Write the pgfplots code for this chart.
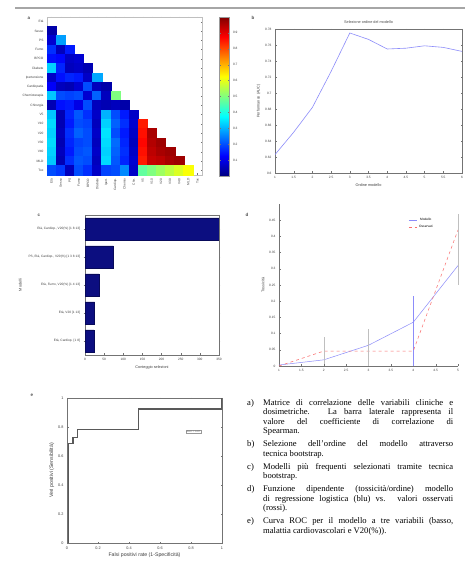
\documentclass[border=0pt]{standalone}
\usepackage{pgfplots}
\pgfplotsset{compat=1.18}
\usepackage{fontspec}
\setmainfont{Liberation Serif}
\newfontfamily\axfont{Liberation Sans}
\newcommand{\tk}{\axfont\fontsize{3.2}{3.6}\selectfont}
\newcommand{\lb}{\axfont\fontsize{3.8}{4.2}\selectfont}
\newcommand{\jl}[2]{\makebox[16pt][l]{#1}\makebox[190pt][s]{#2}}
\newcommand{\lastl}[1]{\makebox[16pt][l]{}#1}
\definecolor{navy}{RGB}{12,14,128}
\definecolor{lblue}{RGB}{140,140,250}
\definecolor{lred}{RGB}{250,110,110}
\pgfplotsset{
  every axis/.append style={
    scale only axis,
    axis line style={draw=black!55, line width=0.3pt},
    tick style={draw=black!55, line width=0.25pt},
    major tick length=1.5pt,
    tick align=inside,
    tick label style={font=\tk, text=black!75},
    label style={font=\lb, text=black!75},
    /pgf/number format/assume math mode=true,
  }
}
\begin{document}
\begin{tikzpicture}
\path[use as bounding box, fill=white] (0,0) rectangle (465pt,570pt);
\draw[black!35, line width=1.8pt] (15pt,562pt) -- (465pt,562pt);
% panel letters
\node[font=\axfont\fontsize{4.5}{5}\selectfont\bfseries, text=black!70] at (29pt,552pt) {a};
\node[font=\axfont\fontsize{4.5}{5}\selectfont\bfseries, text=black!70] at (253pt,552pt) {b};
\node[font=\axfont\fontsize{4.5}{5}\selectfont\bfseries, text=black!70] at (39pt,355pt) {c};
\node[font=\axfont\fontsize{4.5}{5}\selectfont\bfseries, text=black!70] at (247pt,355pt) {d};
\node[font=\axfont\fontsize{4.5}{5}\selectfont\bfseries, text=black!70] at (32pt,175pt) {e};

% ---------- panel a: correlation matrix ----------
\begin{axis}[at={(47pt,395pt)}, anchor=south west, width=155pt, height=158pt,
  xmin=0.5, xmax=17.5, ymin=0.5, ymax=17.5, y dir=reverse,
  axis line style={draw=black!25},
  xtick={1,...,17}, ytick={1,...,17},
  yticklabels={Et\`a,Sesso,PS,Fumo,BPCO,Diabete,Ipertensione,Cardiopatia,Chemioterapia,Chirurgia,V5,V10,V20,V30,V40,MLD,Tox},
  xticklabels={Et\`a,Sesso,PS,Fumo,BPCO,Diabete,Ipert.,Cardiop.,Chemio,Chir.,V5,V10,V20,V30,V40,MLD,Tox},
  x tick label style={rotate=90, anchor=east},
  colormap/jet, point meta min=0, point meta max=1,
  colorbar,
  colorbar style={at={(parent axis.north east)}, anchor=north west, xshift=9pt,
     width=10pt, height=159pt, ytick={0.1,0.2,0.3,0.4,0.5,0.6,0.7,0.8,0.9},
     tick label style={font=\tk}, axis line style={draw=black!40}},
]
\addplot[scatter, only marks, mark=square*, mark size=4.66pt,
  scatter/use mapped color={draw=mapped color, fill=mapped color},
  point meta=explicit] table[meta=c] {
x y c
1 2 0.04
1 3 0.08
2 3 0.28
1 4 0.17
2 4 0.06
3 4 0.15
1 5 0.14
2 5 0.13
3 5 0.07
4 5 0.08
1 6 0.33
2 6 0.16
3 6 0.06
4 6 0.07
5 6 0.05
1 7 0.07
2 7 0.14
3 7 0.16
4 7 0.15
5 7 0.07
6 7 0.29
1 8 0.12
2 8 0.06
3 8 0.05
4 8 0.08
5 8 0.20
6 8 0.06
7 8 0.04
1 9 0.32
2 9 0.20
3 9 0.19
4 9 0.20
5 9 0.08
6 9 0.22
7 9 0.06
8 9 0.50
1 10 0.05
2 10 0.14
3 10 0.15
4 10 0.10
5 10 0.20
6 10 0.06
7 10 0.05
8 10 0.06
9 10 0.04
1 11 0.32
2 11 0.05
3 11 0.16
4 11 0.21
5 11 0.17
6 11 0.07
7 11 0.30
8 11 0.20
9 11 0.15
10 11 0.07
1 12 0.34
2 12 0.05
3 12 0.15
4 12 0.20
5 12 0.19
6 12 0.06
7 12 0.33
8 12 0.22
9 12 0.17
10 12 0.08
11 12 0.85
1 13 0.33
2 13 0.06
3 13 0.17
4 13 0.22
5 13 0.20
6 13 0.07
7 13 0.35
8 13 0.20
9 13 0.15
10 13 0.07
11 13 0.86
12 13 0.96
1 14 0.34
2 14 0.05
3 14 0.16
4 14 0.19
5 14 0.20
6 14 0.06
7 14 0.34
8 14 0.23
9 14 0.16
10 14 0.06
11 14 0.87
12 14 0.95
13 14 0.97
1 15 0.33
2 15 0.06
3 15 0.15
4 15 0.20
5 15 0.21
6 15 0.07
7 15 0.33
8 15 0.22
9 15 0.17
10 15 0.07
11 15 0.86
12 15 0.94
13 15 0.96
14 15 0.97
1 16 0.32
2 16 0.05
3 16 0.17
4 16 0.21
5 16 0.20
6 16 0.06
7 16 0.34
8 16 0.21
9 16 0.16
10 16 0.08
11 16 0.85
12 16 0.93
13 16 0.94
14 16 0.96
15 16 0.97
1 17 0.20
2 17 0.18
3 17 0.06
4 17 0.20
5 17 0.17
6 17 0.07
7 17 0.19
8 17 0.20
9 17 0.26
10 17 0.07
11 17 0.47
12 17 0.50
13 17 0.53
14 17 0.56
15 17 0.59
16 17 0.62
};
\end{axis}

% ---------- panel b: model order selection ----------
\begin{axis}[at={(275pt,397pt)}, anchor=south west, width=187pt, height=144pt,
  xmin=1, xmax=6, ymin=0.6, ymax=0.78,
  xtick={1,1.5,2,2.5,3,3.5,4,4.5,5,5.5,6},
  ytick={0.6,0.62,0.64,0.66,0.68,0.7,0.72,0.74,0.76,0.78},
  yticklabel style={/pgf/number format/fixed, /pgf/number format/precision=2},
  title={Selezione ordine del modello}, title style={font=\lb, text=black!70, yshift=-4pt},
  xlabel={Ordine modello}, ylabel={Performance (AUC)},
  xlabel style={yshift=2pt}, ylabel style={yshift=-2pt},
]
\addplot[lblue, line width=0.6pt] coordinates {(1,0.623)(1.5,0.651)(2,0.682)(2.5,0.727)(3,0.775)(3.5,0.767)(4,0.755)(4.5,0.756)(5,0.759)(5.5,0.757)(6,0.752)};
\end{axis}

% ---------- panel c: most frequent models ----------
\begin{axis}[at={(85pt,215pt)}, anchor=south west, width=134pt, height=140pt,
  xbar, bar width=0.8,
  xmin=0, xmax=350, ymin=0.5, ymax=5.5, y dir=reverse,
  ytick={1,2,3,4,5},
  yticklabels={{Et\`a, Cardiop., V20(\%) [1 8 13]},{PS, Et\`a, Cardiop., V20(\%) [1 3 8 13]},{Et\`a, Fumo, V20(\%) [1 4 13]},{Et\`a, V20 [1 13]},{Et\`a, Cardiop. [1 8]}},
  xtick={0,50,100,150,200,250,300,350},
  xlabel={Conteggio selezioni}, ylabel={Modelli},
  xlabel style={yshift=2pt},
]
\addplot[fill=navy, draw=navy!70!black, line width=0.3pt] coordinates {(350,1)(74,2)(37,3)(25,4)(23,5)};
\end{axis}

% ---------- panel d: logistic model vs observed ----------
\begin{axis}[at={(279pt,204pt)}, anchor=south west, width=179pt, height=162pt,
  xmin=1, xmax=5, ymin=0, ymax=0.5,
  axis x line*=bottom, axis y line*=left,
  xtick={1,1.5,2,2.5,3,3.5,4,4.5,5},
  ytick={0,0.05,0.1,0.15,0.2,0.25,0.3,0.35,0.4,0.45},
  yticklabel style={/pgf/number format/fixed, /pgf/number format/precision=2},
  ylabel={Tossicit\`a}, ylabel style={yshift=-2pt},
  clip=false,
  legend style={at={(0.72,0.93)}, anchor=north west, draw=none, fill=none, font=\tk, inner sep=0.5pt, row sep=-1pt},
  legend image code/.code={\draw[#1] (0pt,0pt) -- (8pt,0pt);},
]
\addplot[lblue, line width=0.5pt, error bars/.cd, y dir=both, y explicit,
  error bar style={lblue, line width=0.5pt}, error mark=none]
  coordinates {(1,0.003) +- (0,0) (2,0.019) +- (0,0) (3,0.064) +- (0,0) (4,0.135) += (0,0.082) -= (0,0.135) (5,0.31) += (0,0.06) -= (0,0.06)};
\addlegendentry{Modello}
\addplot[lred, line width=0.5pt, dashed, error bars/.cd, y dir=both, y explicit,
  error bar style={black!25, line width=0.4pt, solid}, error mark=none]
  coordinates {(1,0) +- (0,0) (2,0.046) += (0,0.043) -= (0,0.04) (3,0.046) += (0,0.069) -= (0,0.046) (4,0.046) +- (0,0) (5,0.42) += (0,0.05) -= (0,0.17)};
\addlegendentry{Osservati}
\end{axis}

% ---------- panel e: ROC ----------
\begin{axis}[at={(67pt,27pt)}, anchor=south west, width=155pt, height=145pt,
  xmin=0, xmax=1, ymin=0, ymax=1,
  xtick={0,0.2,0.4,0.6,0.8,1}, ytick={0,0.2,0.4,0.6,0.8,1},
  tick label style={font=\axfont\fontsize{3.8}{4.2}\selectfont},
  xlabel={Falsi positivi rate (1-Specificit\`a)}, ylabel={Veri positivi (Sensibilit\`a)},
  label style={font=\axfont\fontsize{5.2}{6}\selectfont},
  xlabel style={yshift=3pt}, ylabel style={yshift=-3pt},
]
\addplot[black!65, line width=1.1pt] coordinates {(0.01,0)(0.01,0.688)(0.039,0.688)(0.039,0.73)(0.065,0.73)(0.065,0.78)(0.462,0.78)(0.462,0.924)(1,0.924)(1,1)};
\node[draw=black!40, line width=0.3pt, fill=white, inner sep=0.6pt, font=\axfont\fontsize{2.6}{3}\selectfont, text=black!60] at (rel axis cs:0.816,0.77) {AUC = 0.87};
\end{axis}

% ---------- caption ----------
\node[anchor=north west, align=left, inner sep=0pt,
  font=\fontsize{8.6}{9.5}\selectfont] at (247pt,171pt) {%
\jl{a)}{Matrice di correlazione delle variabili cliniche e}\\
\jl{}{dosimetriche. La barra laterale rappresenta il}\\
\jl{}{valore del coefficiente di correlazione di}\\
\lastl{Spearman.}\\[3.5pt]
\jl{b)}{Selezione dell'ordine del modello attraverso}\\
\lastl{tecnica bootstrap.}\\[3.5pt]
\jl{c)}{Modelli pi\`u frequenti selezionati tramite tecnica}\\
\lastl{bootstrap.}\\[3.5pt]
\jl{d)}{Funzione dipendente (tossicit\`a/ordine) modello}\\
\jl{}{di regressione logistica (blu) vs. valori osservati}\\
\lastl{(rossi).}\\[3.5pt]
\jl{e)}{Curva ROC per il modello a tre variabili (basso,}\\
\lastl{malattia cardiovascolari e V20(\%)).}};
\end{tikzpicture}
\end{document}
